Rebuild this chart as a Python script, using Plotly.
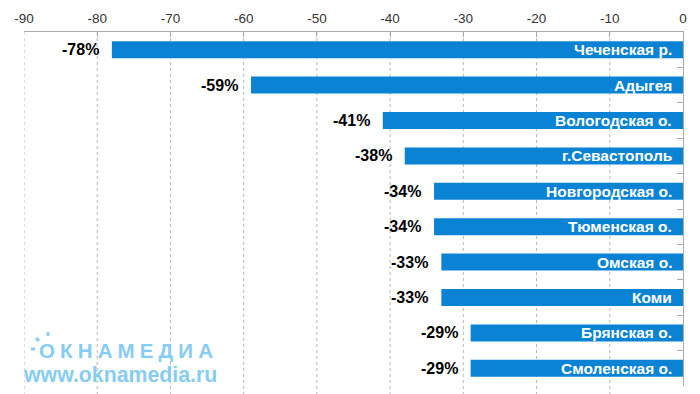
import plotly.graph_objects as go

regions = ["Чеченская р.", "Адыгея", "Вологодская о.", "г.Севастополь", "Новгородская о.",
           "Тюменская о.", "Омская о.", "Коми", "Брянская о.", "Смоленская о."]
values = [-78, -59, -41, -38, -34, -34, -33, -33, -29, -29]
x_ticks = [-90, -80, -70, -60, -50, -40, -30, -20, -10, 0]

BAR = "#0A83D5"
FONT = "Liberation Sans, Arial"
GRID = "#B8B8B8"
fig = go.Figure(go.Bar(
    x=values, y=regions, orientation="h", width=0.48,
    marker=dict(color=BAR, line=dict(width=0)), hoverinfo="skip"))

ann = []
for r, v in zip(regions, values):
    ann.append(dict(x=0, y=r, xref="x", yref="y", text=r, showarrow=False,
                    xanchor="right", xshift=-9,
                    font=dict(family=FONT, size=15.5, color="white", weight="bold")))
    ann.append(dict(x=v, y=r, xref="x", yref="y", text=f"{v}%", showarrow=False,
                    xanchor="right", xshift=-11,
                    font=dict(family=FONT, size=16, color="black", weight="bold")))

# watermark (logo text)
WM = "#86CCF4"
sp = "\u2005"
ann.append(dict(x=(37 - 24) / 659, y=(386 - 350) / 354, xref="paper", yref="paper",
                text=sp.join("ОКНАМЕДИА"), showarrow=False,
                xanchor="left", yanchor="middle",
                font=dict(family=FONT, size=20.5, color=WM, weight="bold")))
ann.append(dict(x=(21 - 24) / 659, y=(386 - 375) / 354, xref="paper", yref="paper",
                text="www.oknamedia.ru", showarrow=False,
                xanchor="left", yanchor="middle",
                font=dict(family=FONT, size=21.3, color=WM, weight="bold")))

def px(xp, yp):
    return (xp - 24) / 659, (386 - yp) / 354

shapes = []
# dashed vertical gridlines (extend slightly below the plot as in the reference)
for t in x_ticks[:-1]:
    shapes.append(dict(type="line", xref="x", yref="paper", x0=t, x1=t, y0=1, y1=-0.03,
                       line=dict(color=GRID, width=1, dash="3px,3px"), layer="below"))
for (x0, y0, x1, y1) in [(31, 349, 35, 349), (36, 338, 39, 341), (48, 332, 48, 336)]:
    a0, b0 = px(x0, y0)
    a1, b1 = px(x1, y1)
    shapes.append(dict(type="line", xref="paper", yref="paper", x0=a0, y0=b0, x1=a1, y1=b1,
                       line=dict(color=WM, width=3)))

fig.update_layout(
    width=700, height=394,
    margin=dict(l=16, r=25, t=24, b=16),
    paper_bgcolor="white", plot_bgcolor="white",
    showlegend=False,
    annotations=ann, shapes=shapes,
    font=dict(family=FONT, size=13, color="#333"),
    xaxis=dict(side="top", range=[-90, 0], tickvals=x_ticks, ticktext=[str(t) for t in x_ticks],
               showline=True, linecolor="#AAAAAA", linewidth=1,
               ticks="inside", ticklen=5, tickcolor="#AAAAAA", ticklabelstandoff=3,
               showgrid=False, automargin=False,
               zeroline=False, fixedrange=True,
               tickfont=dict(size=13.5, color="#333")),
    yaxis=dict(side="right", autorange="reversed", showticklabels=False,
               showline=True, linecolor="#AAAAAA", linewidth=1, automargin=False,
               ticks="inside", tickson="boundaries", ticklen=6, tickcolor="#AAAAAA",
               showgrid=False, zeroline=False, fixedrange=True),
)
fig.write_html("out.html")
